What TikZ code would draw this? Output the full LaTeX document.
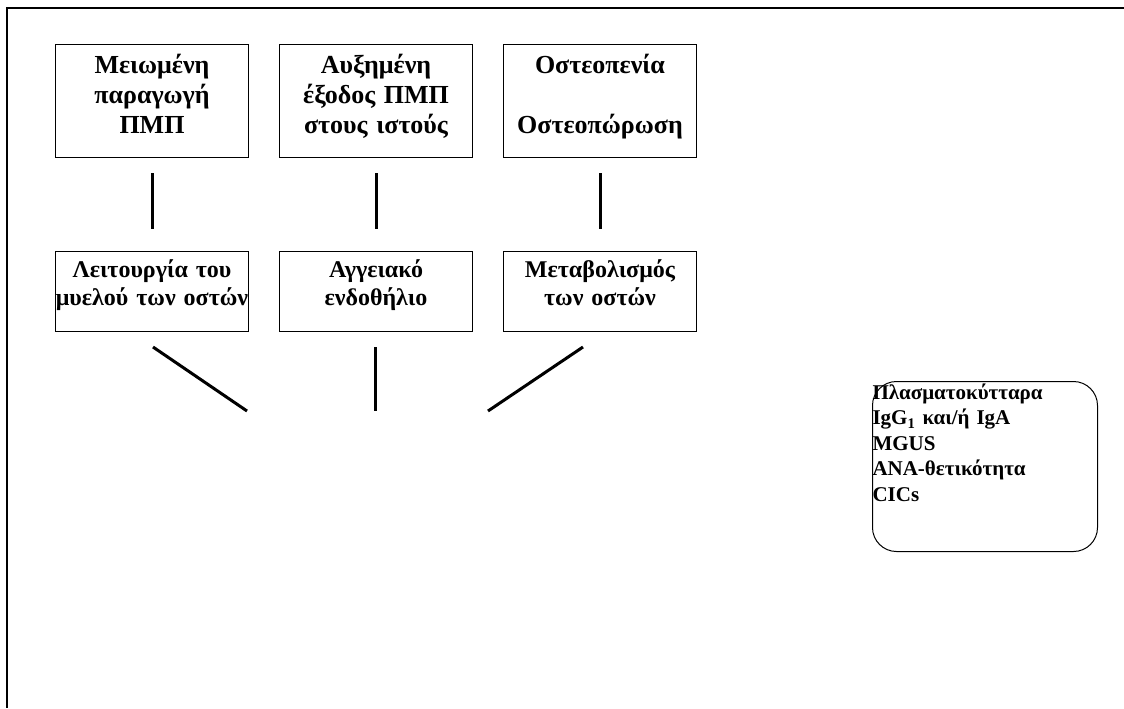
\documentclass[tikz,border=0pt]{standalone}
\usepackage{fontspec}
\setmainfont{Liberation Serif}
\newdimen\px
\px=0.75pt
\tikzset{
  topbox/.style={draw,line width=1\px,anchor=north west,inner sep=0pt,
    text width=193\px,align=center,text height=29\px,text depth=84\px,
    font=\fontsize{19.5}{22.5}\selectfont\bfseries},
  midbox/.style={draw,line width=1\px,anchor=north west,inner sep=0pt,
    text width=193\px,align=center,text height=26\px,text depth=54\px,
    font=\fontsize{18}{21}\selectfont\bfseries},
  cellbox/.style={draw,line width=1\px,rounded corners=24\px,anchor=north west,
    inner sep=0pt,text width=225\px,align=left,text height=18\px,text depth=152\px,
    font=\fontsize{15.75}{19.1}\selectfont\bfseries},
  link/.style={line width=3\px}
}
\begin{document}
\begin{tikzpicture}[x=0.75pt,y=-0.75pt]
\useasboundingbox (0,0) rectangle (1124,708);
% Frame, top and left edges only
\draw[line width=2\px] (1124,8) -- (7,8) -- (7,708);
% Top row
\node[topbox] (prod) at (55,44) {Μειωμένη\\παραγωγή\\ΠΜΠ};
\node[topbox] (exit) at (279,44) {Αυξημένη\\έξοδος ΠΜΠ\\στους ιστούς};
\node[topbox] (osteo) at (503,44) {Οστεοπενία\\[\baselineskip]Οστεοπώρωση};
% Middle row
\node[midbox] (marrow) at (55,251) {Λειτουργία του\\μυελού των οστών};
\node[midbox] (endo) at (279,251) {Αγγειακό\\ενδοθήλιο};
\node[midbox] (metab) at (503,251) {Μεταβολισμός\\των οστών};
% Links between the rows
\draw[link,shorten <=15\px,shorten >=22\px] (prod.south) -- (marrow.north);
\draw[link,shorten <=15\px,shorten >=22\px] (exit.south) -- (endo.north);
\draw[link,shorten <=15\px,shorten >=22\px] (osteo.south) -- (metab.north);
% Lines below, towards the open centre
\coordinate (s1) at (153,347);
\coordinate (e1) at (247,411);
\coordinate (s2) at (375,347);
\coordinate (e2) at (375,411);
\coordinate (s3) at (583,347);
\coordinate (e3) at (488,411);
\draw[link] (s1) -- (e1);
\draw[link] (s2) -- (e2);
\draw[link] (s3) -- (e3);
% Rounded box on the right
\node[cellbox] (cells) at (872,381)
  {Πλασματοκύτταρα\\IgG\textsubscript{1} και/ή IgA\\MGUS\\ANA-θετικότητα\\CICs};
\end{tikzpicture}
\end{document}
